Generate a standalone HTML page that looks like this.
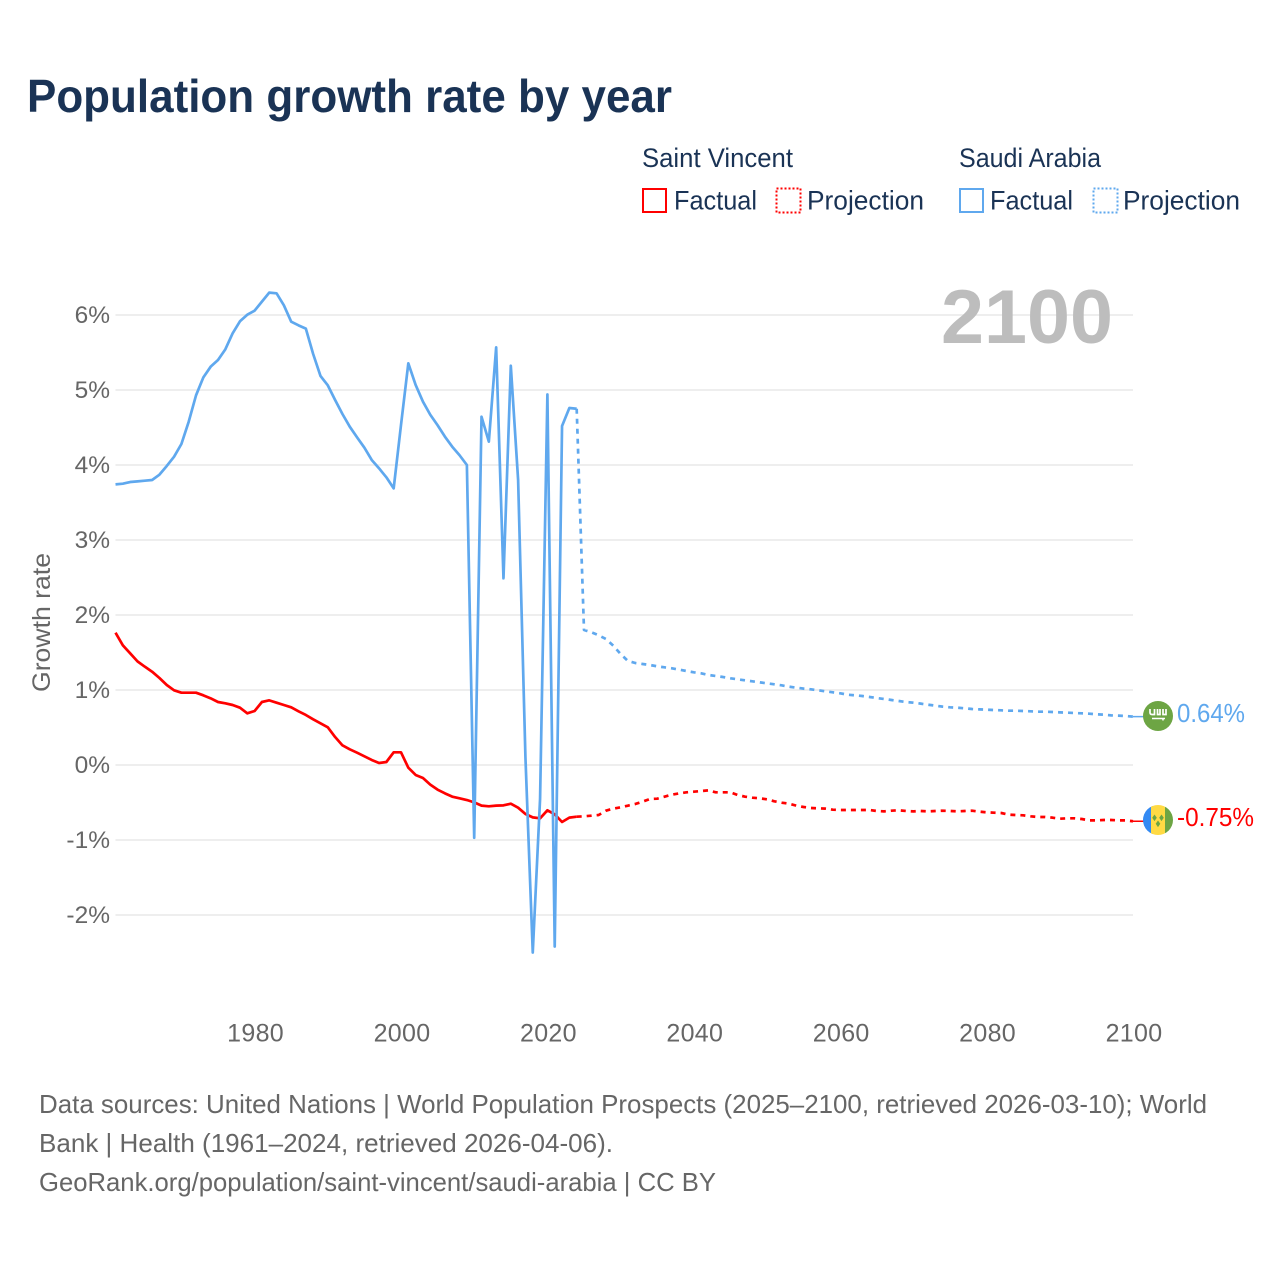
<!DOCTYPE html>
<html lang="en">
<head>
<meta charset="utf-8">
<title>Population growth rate by year</title>
<style>
html,body{margin:0;padding:0;background:#fff}
svg{display:block}
text{font-family:"Liberation Sans",sans-serif}
</style>
</head>
<body>
<svg id="chart" xmlns="http://www.w3.org/2000/svg" width="1280" height="1280" viewBox="0 0 1280 1280">
<rect width="1280" height="1280" fill="#fff"/>
<text x="27" y="112" font-size="46" font-weight="700" fill="#1a3355" textLength="645" lengthAdjust="spacingAndGlyphs">Population growth rate by year</text>

<g font-size="26.500" fill="#1a3355">
<text x="642" y="167" textLength="151" lengthAdjust="spacingAndGlyphs">Saint Vincent</text>
<text x="959" y="167" textLength="142" lengthAdjust="spacingAndGlyphs">Saudi Arabia</text>
<rect x="643" y="189" width="23" height="23" fill="none" stroke="#ff0000" stroke-width="2"/>
<text x="674" y="209.500" textLength="83" lengthAdjust="spacingAndGlyphs">Factual</text>
<rect x="776.500" y="188.500" width="24" height="24" fill="none" stroke="#ff0000" stroke-width="2" stroke-dasharray="2 2"/>
<text x="807" y="209.500" textLength="117" lengthAdjust="spacingAndGlyphs">Projection</text>
<rect x="960" y="189" width="23" height="23" fill="none" stroke="#5fa8ee" stroke-width="2"/>
<text x="990" y="209.500" textLength="83" lengthAdjust="spacingAndGlyphs">Factual</text>
<rect x="1093.500" y="188.500" width="24" height="24" fill="none" stroke="#5fa8ee" stroke-width="2" stroke-dasharray="2 2"/>
<text x="1123" y="209.500" textLength="117" lengthAdjust="spacingAndGlyphs">Projection</text>
</g>

<g id="grid"></g>
<text x="941" y="343" font-size="76" font-weight="700" fill="#bdbdbd" textLength="172" lengthAdjust="spacingAndGlyphs">2100</text>
<g id="yticks" font-size="24.500" fill="#666" text-anchor="end"></g>
<g id="xticks" font-size="25" fill="#666" text-anchor="middle"></g>
<text transform="translate(50 692) rotate(-90)" font-size="25" fill="#666" textLength="139" lengthAdjust="spacingAndGlyphs">Growth rate</text>
<g id="series" fill="none" stroke-width="2.700" stroke-linejoin="round"></g>

<g>
<circle cx="1158" cy="716" r="15" fill="#6da544"/>
<path d="M1150 709v3.500q0 2 2 2h2.500v-5.500M1157.500 709v5.500h2.500v-5.500M1163 709v5.500h3v-5.500" fill="none" stroke="#fff" stroke-width="1.700"/>
<path d="M1152 718.500h13M1163 718.500v2" fill="none" stroke="#fff" stroke-width="1.500"/>
</g>
<text x="1177" y="722" font-size="25.500" fill="#5fa8ee" textLength="68" lengthAdjust="spacingAndGlyphs">0.64%</text>

<g>
<clipPath id="svc-clip"><circle cx="1158" cy="820" r="15"/></clipPath>
<g clip-path="url(#svc-clip)">
<rect x="1143" y="805" width="10" height="30" fill="#338af3"/>
<rect x="1151" y="805" width="14" height="30" fill="#ffda44"/>
<rect x="1165" y="805" width="8" height="30" fill="#6da544"/>
<path d="M1154.500 814.500l2.300 3.300-2.300 3.300-2.300-3.300zM1161.500 814.500l2.300 3.300-2.300 3.300-2.300-3.300zM1158 820.500l2.300 3.300-2.300 3.300-2.300-3.300z" fill="#6da544"/>
</g>
</g>
<text x="1177" y="826" font-size="25.500" fill="#ff0000" textLength="77" lengthAdjust="spacingAndGlyphs">-0.75%</text>

<g font-size="26" fill="#666">
<text x="39" y="1113" textLength="1168" lengthAdjust="spacingAndGlyphs">Data sources: United Nations | World Population Prospects (2025–2100, retrieved 2026-03-10); World</text>
<text x="39" y="1152" textLength="574" lengthAdjust="spacingAndGlyphs">Bank | Health (1961–2024, retrieved 2026-04-06).</text>
<text x="39" y="1191" textLength="677" lengthAdjust="spacingAndGlyphs">GeoRank.org/population/saint-vincent/saudi-arabia | CC BY</text>
</g>
</svg>
<script>
const firstFactualYear = 1961;
const firstProjectionYear = 2024;
const yTickValues = [-2, -1, 0, 1, 2, 3, 4, 5, 6];
const yTickLabels = ["-2%", "-1%", "0%", "1%", "2%", "3%", "4%", "5%", "6%"];
const xTickValues = [1980, 2000, 2020, 2040, 2060, 2080, 2100];
const xTickLabels = ["1980", "2000", "2020", "2040", "2060", "2080", "2100"];
const saudiFactual = [3.742,3.751,3.773,3.782,3.791,3.8,3.871,3.987,4.111,4.28,4.578,4.929,5.169,5.311,5.4,5.542,5.756,5.916,6.004,6.058,6.178,6.298,6.289,6.129,5.911,5.862,5.818,5.48,5.187,5.062,4.867,4.68,4.511,4.369,4.231,4.067,3.956,3.836,3.689,4.533,5.356,5.067,4.844,4.67,4.53,4.378,4.244,4.13,4.0,-0.97,4.644,4.311,5.569,2.489,5.324,3.8,0.1,-2.5,-0.45,4.94,-2.42,4.52,4.76,4.75];
const saudiProjection = [4.75,1.8,1.77,1.73,1.68,1.59,1.48,1.387,1.36,1.347,1.333,1.316,1.302,1.289,1.271,1.253,1.236,1.222,1.2,1.187,1.173,1.156,1.142,1.129,1.116,1.102,1.089,1.076,1.062,1.044,1.031,1.018,1.009,0.996,0.982,0.969,0.956,0.938,0.929,0.92,0.907,0.893,0.88,0.867,0.853,0.84,0.831,0.818,0.804,0.791,0.778,0.769,0.764,0.756,0.747,0.742,0.738,0.733,0.729,0.724,0.724,0.72,0.716,0.711,0.711,0.707,0.702,0.698,0.693,0.689,0.684,0.676,0.671,0.662,0.658,0.653,0.645];
const vincentFactual = [1.764,1.596,1.489,1.382,1.311,1.244,1.16,1.067,0.996,0.964,0.964,0.964,0.929,0.889,0.84,0.822,0.8,0.764,0.689,0.72,0.84,0.862,0.831,0.8,0.769,0.716,0.667,0.609,0.556,0.502,0.373,0.262,0.209,0.164,0.116,0.067,0.027,0.04,0.169,0.169,-0.036,-0.133,-0.173,-0.262,-0.329,-0.378,-0.422,-0.444,-0.467,-0.498,-0.542,-0.551,-0.542,-0.538,-0.516,-0.569,-0.653,-0.698,-0.711,-0.604,-0.658,-0.76,-0.702,-0.689];
const vincentProjection = [-0.689,-0.684,-0.676,-0.667,-0.609,-0.582,-0.564,-0.542,-0.52,-0.489,-0.453,-0.449,-0.422,-0.396,-0.378,-0.364,-0.356,-0.347,-0.338,-0.364,-0.364,-0.364,-0.4,-0.422,-0.436,-0.444,-0.458,-0.484,-0.502,-0.516,-0.542,-0.56,-0.573,-0.578,-0.582,-0.596,-0.6,-0.6,-0.6,-0.6,-0.6,-0.613,-0.618,-0.609,-0.604,-0.613,-0.618,-0.613,-0.618,-0.613,-0.609,-0.613,-0.618,-0.613,-0.609,-0.622,-0.631,-0.636,-0.64,-0.662,-0.667,-0.671,-0.684,-0.693,-0.693,-0.702,-0.716,-0.711,-0.711,-0.72,-0.738,-0.738,-0.733,-0.733,-0.738,-0.738,-0.75];

const SVG_NS = "http://www.w3.org/2000/svg";
function xScale(year) { return 1133 + (year - 2100) * 7.32; }
function yScale(value) { return 765 - value * 75; }
function seriesPoints(values, startYear) {
  return values.map(function (v, i) {
    return xScale(startYear + i).toFixed(2) + "," + yScale(v).toFixed(2);
  }).join(" ");
}

const grid = document.getElementById("grid");
const yTicks = document.getElementById("yticks");
yTickValues.forEach(function (v, i) {
  const line = document.createElementNS(SVG_NS, "line");
  
  
  line.setAttribute("x1", xScale(firstFactualYear));
  line.setAttribute("x2", xScale(2100));
  line.setAttribute("y1", yScale(v));
  line.setAttribute("y2", yScale(v));
  line.setAttribute("stroke", "#eeeeee");
  line.setAttribute("stroke-width", "2");
  grid.appendChild(line);
  const label = document.createElementNS(SVG_NS, "text");
  
  
  label.setAttribute("x", 110);
  label.setAttribute("y", yScale(v) + 8);
  label.textContent = yTickLabels[i];
  yTicks.appendChild(label);
});

const xTicks = document.getElementById("xticks");
xTickValues.forEach(function (year, i) {
  const label = document.createElementNS(SVG_NS, "text");
  
  
  label.setAttribute("x", xScale(year) + 1);
  label.setAttribute("y", 1041.500);
  label.setAttribute("letter-spacing", "0.3");
  label.textContent = xTickLabels[i];
  xTicks.appendChild(label);
});

const seriesGroup = document.getElementById("series");
function drawLine(values, startYear, color, dashed, name) {
  const line = document.createElementNS(SVG_NS, "polyline");
  
  
  line.setAttribute("points", seriesPoints(values, startYear));
  line.setAttribute("stroke", color);
  if (dashed) { line.setAttribute("stroke-dasharray", "5 5"); }
  seriesGroup.appendChild(line);
}
drawLine(vincentFactual, firstFactualYear, "#ff0000", false, "saint-vincent-factual-line");
drawLine(vincentProjection, firstProjectionYear, "#ff0000", true, "saint-vincent-projection-line");
drawLine(saudiFactual, firstFactualYear, "#5fa8ee", false, "saudi-arabia-factual-line");
drawLine(saudiProjection, firstProjectionYear, "#5fa8ee", true, "saudi-arabia-projection-line");

function drawLeader(value, color, name) {
  const leader = document.createElementNS(SVG_NS, "line");
  
  
  leader.setAttribute("x1", xScale(2100));
  leader.setAttribute("x2", 1144);
  leader.setAttribute("y1", yScale(value));
  leader.setAttribute("y2", yScale(value));
  leader.setAttribute("stroke", color);
  leader.setAttribute("stroke-width", "1.500");
  seriesGroup.appendChild(leader);
}
drawLeader(saudiProjection[saudiProjection.length - 1], "#5fa8ee", "saudi-arabia-leader-line");
drawLeader(vincentProjection[vincentProjection.length - 1], "#ff0000", "saint-vincent-leader-line");
</script>
</body>
</html>
